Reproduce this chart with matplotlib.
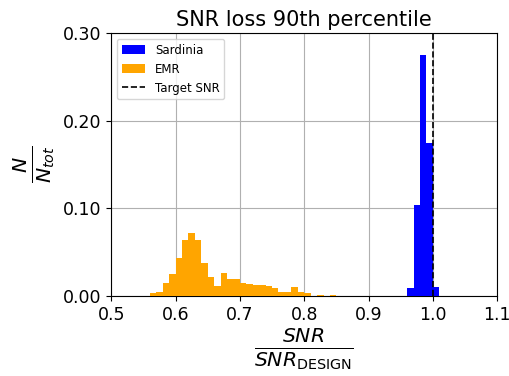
import numpy as np
import matplotlib
matplotlib.use("Agg")
import matplotlib.pyplot as plt
import matplotlib.ticker as mticker

# normalised counts per bin (N / N_tot), bin width 0.01
emr_edges = np.round(np.arange(0.56, 0.851, 0.01), 2)
emr_counts = [0.003, 0.004, 0.015, 0.025, 0.043, 0.064, 0.0715, 0.064, 0.038, 0.022,
              0.0117, 0.0266, 0.019, 0.019, 0.0145, 0.0137, 0.012, 0.0125, 0.0114, 0.0087,
              0.0046, 0.005, 0.0107, 0.0045, 0.003, 0.0, 0.0015, 0.0, 0.0015]

sardinia_edges = [0.96, 0.97, 0.98, 0.99, 1.00, 1.01]
sardinia_counts = [0.009, 0.104, 0.275, 0.174, 0.010]

target_snr = 1.0

fig = plt.figure(figsize=(5.1, 3.76), dpi=100)
ax = fig.add_axes([0.218, 0.213, 0.757, 0.699])

ax.hist(sardinia_edges[:-1], bins=sardinia_edges, weights=sardinia_counts,
        color="blue", label="Sardinia", zorder=3)
ax.hist(emr_edges[:-1], bins=emr_edges, weights=emr_counts,
        color="orange", label="EMR", zorder=3)
ax.axvline(target_snr, color="black", linestyle="--", linewidth=1.2,
           label="Target SNR", zorder=4)

ax.set_xlim(0.5, 1.1)
ax.set_ylim(0, 0.30)
ax.set_yticks([0.0, 0.1, 0.2, 0.3])
ax.yaxis.set_major_formatter(mticker.FormatStrFormatter("%.2f"))
ax.tick_params(labelsize=12.5)
ax.grid(True, color="#b0b0b0", linewidth=0.8, zorder=0)
ax.set_axisbelow(True)

ax.set_title("SNR loss 90th percentile", fontsize=15, pad=5)
ax.set_xlabel(r"$\frac{SNR}{SNR_{\mathrm{DESIGN}}}$", fontsize=21, labelpad=2)
ax.set_ylabel(r"$\frac{N}{N_{tot}}$", fontsize=21)

ax.legend(loc="upper left", fontsize=8.5)

fig.savefig("out.png", dpi=100)
